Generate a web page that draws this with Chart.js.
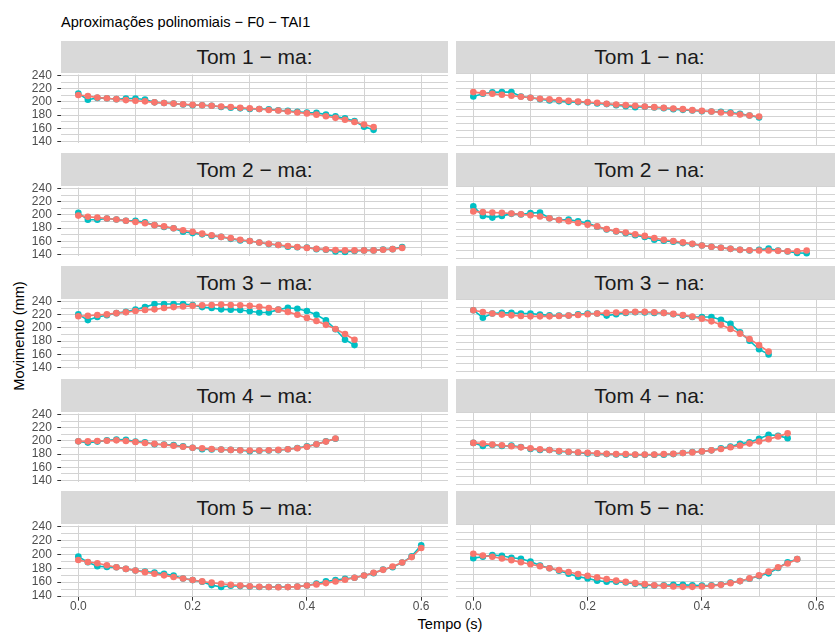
<!DOCTYPE html>
<html><head><meta charset="utf-8">
<script src="https://cdn.jsdelivr.net/npm/chart.js@4.4.1/dist/chart.umd.min.js"></script>
<style>
html,body{margin:0;padding:0;background:#fff;width:835px;height:635px;overflow:hidden;position:relative;font-family:'Liberation Sans',Arial,sans-serif;}
.strip{position:absolute;background:#D9D9D9;color:#1A1A1A;font-size:21px;display:flex;align-items:center;justify-content:center;white-space:nowrap;overflow:hidden;}
canvas{position:absolute;}
.txt{position:absolute;white-space:nowrap;line-height:1;color:#000;}
</style></head><body>
<div class="txt" style="left:61px;top:15px;font-size:14.6px;">Aproximações polinomiais − F0 − TAI1</div>
<div class="txt" style="left:450px;top:617px;font-size:14.6px;transform:translateX(-50%);">Tempo (s)</div>
<div class="txt" style="left:19px;top:336px;font-size:14.6px;transform:translate(-50%,-50%) rotate(-90deg);">Movimento (mm)</div>
<script>
// ---- data ----
const tempo = [0, 0.0167, 0.0333, 0.05, 0.0667, 0.0833, 0.1, 0.1167, 0.1333, 0.15, 0.1667, 0.1833, 0.2, 0.2167, 0.2333, 0.25, 0.2667, 0.2833, 0.3, 0.3167, 0.3333, 0.35, 0.3667, 0.3833, 0.4, 0.4167, 0.4333, 0.45, 0.4667, 0.4833, 0.5, 0.5167, 0.5333, 0.55, 0.5667, 0.5833, 0.6];
const paineis = ["Tom 1 − ma:", "Tom 1 − na:", "Tom 2 − ma:", "Tom 2 − na:", "Tom 3 − ma:", "Tom 3 − na:", "Tom 4 − ma:", "Tom 4 − na:", "Tom 5 − ma:", "Tom 5 − na:"];
const xTicks = [0.0, 0.2, 0.4, 0.6];
const yTicks = [140, 160, 180, 200, 220, 240];

const tom1_ma_obs = [212.7, 203.2, 206.0, 205.5, 204.1, 205.1, 205.1, 203.6, 199.3, 198.4, 197.4, 196.0, 195.0, 195.0, 194.1, 192.2, 191.2, 190.2, 189.3, 189.3, 188.8, 187.4, 186.4, 185.0, 184.0, 183.5, 180.7, 178.3, 175.0, 171.1, 162.5, 157.7];
const tom1_ma_apr = [210.3, 208.9, 206.5, 205.5, 204.1, 202.7, 201.7, 200.8, 199.3, 198.4, 197.4, 196.5, 195.5, 195.0, 194.1, 193.1, 192.2, 191.2, 190.2, 189.3, 187.8, 186.9, 185.5, 184.0, 182.6, 180.7, 178.3, 175.9, 173.0, 169.7, 165.8, 162.0];
const tom1_na_obs = [208.4, 212.2, 214.1, 214.5, 214.5, 208.4, 206.5, 204.6, 202.7, 201.8, 200.8, 200.4, 199.9, 198.5, 197.6, 196.1, 194.7, 193.3, 193.8, 192.8, 191.9, 190.5, 189.5, 188.6, 187.6, 187.2, 186.7, 185.8, 183.9, 181.5, 178.7];
const tom1_na_apr = [214.5, 213.1, 212.2, 210.8, 209.4, 208.0, 206.5, 205.1, 204.2, 203.2, 202.3, 201.3, 200.4, 199.4, 198.0, 197.1, 196.1, 195.2, 194.2, 193.3, 192.4, 191.4, 190.5, 189.1, 188.1, 187.2, 185.8, 184.8, 182.9, 181.5, 180.1];
const tom2_ma_obs = [203.2, 192.6, 192.6, 194.6, 193.1, 191.2, 191.2, 188.8, 184.5, 181.6, 179.7, 174.4, 172.5, 170.6, 168.2, 166.7, 163.8, 161.4, 160.6, 158.2, 155.8, 154.4, 152.0, 151.0, 150.6, 148.2, 147.2, 144.8, 143.9, 145.3, 146.3, 146.3, 147.7, 148.2, 151.5];
const tom2_ma_apr = [198.9, 197.0, 196.0, 194.6, 193.1, 191.2, 189.3, 187.4, 184.5, 182.6, 179.7, 176.8, 174.4, 171.6, 169.1, 166.7, 164.8, 162.4, 160.6, 158.2, 156.3, 154.4, 152.9, 151.5, 150.1, 148.7, 147.7, 146.8, 146.3, 146.3, 146.3, 146.3, 147.2, 148.2, 150.1];
const tom2_na_obs = [212.7, 199.3, 196.9, 199.3, 202.2, 201.2, 203.2, 204.1, 196.0, 193.6, 194.1, 191.7, 189.3, 184.0, 180.2, 177.3, 174.9, 172.0, 169.7, 165.8, 164.4, 163.0, 161.0, 159.6, 157.7, 155.8, 154.4, 152.9, 151.5, 150.5, 151.5, 153.4, 150.5, 149.1, 147.2, 146.7];
const tom2_na_apr = [205.6, 204.6, 204.1, 203.6, 202.7, 201.7, 200.3, 198.4, 196.0, 193.6, 191.7, 189.3, 186.9, 184.5, 180.7, 177.8, 175.9, 173.5, 171.1, 168.2, 165.8, 163.9, 162.0, 160.1, 157.7, 155.8, 154.4, 152.9, 151.5, 151.0, 150.5, 150.5, 150.1, 149.6, 149.6, 150.5];
const tom3_ma_obs = [220.4, 211.8, 216.6, 219.0, 222.3, 224.2, 227.6, 231.4, 236.2, 236.2, 236.2, 236.2, 234.7, 231.4, 230.0, 228.0, 227.6, 227.1, 225.2, 223.3, 223.3, 227.6, 230.5, 229.0, 225.6, 219.9, 211.3, 197.9, 182.1, 174.0];
const tom3_ma_apr = [217.5, 218.3, 219.4, 220.4, 222.3, 223.7, 225.6, 227.1, 228.0, 230.0, 231.4, 232.3, 233.3, 234.3, 234.7, 235.2, 234.7, 234.3, 233.3, 231.9, 230.0, 227.6, 224.2, 219.9, 215.1, 210.3, 204.6, 198.4, 190.8, 182.1];
const tom3_na_obs = [225.6, 215.1, 220.9, 221.8, 221.8, 220.9, 220.9, 219.4, 218.4, 218.0, 218.0, 219.9, 220.9, 220.9, 218.0, 219.9, 221.8, 222.8, 222.3, 221.8, 221.8, 219.9, 218.0, 216.1, 216.1, 216.1, 212.2, 206.5, 194.5, 182.6, 170.6, 163.4];
const tom3_na_apr = [225.6, 223.1, 220.9, 219.4, 218.4, 217.5, 217.0, 217.0, 217.0, 217.5, 218.0, 218.9, 219.9, 220.9, 221.8, 222.3, 222.8, 223.3, 223.3, 222.8, 221.8, 220.4, 218.9, 216.6, 213.7, 209.9, 205.1, 199.3, 192.6, 185.0, 176.4, 167.3];
const tom4_ma_obs = [199.3, 197.4, 198.9, 200.8, 202.2, 201.7, 198.9, 197.9, 195.0, 194.6, 193.6, 191.7, 189.7, 187.4, 186.9, 186.9, 186.4, 185.9, 184.5, 185.0, 185.5, 185.9, 187.4, 189.3, 191.7, 195.0, 199.3, 203.2];
const tom4_ma_apr = [199.3, 199.3, 199.8, 200.3, 200.8, 199.8, 198.4, 196.9, 195.5, 194.0, 192.6, 191.2, 189.7, 188.8, 187.8, 186.9, 186.4, 185.9, 185.5, 185.5, 185.9, 186.4, 187.4, 188.8, 191.2, 195.0, 198.9, 203.7];
const tom4_na_obs = [197.9, 193.6, 195.0, 193.6, 194.0, 192.1, 189.3, 187.8, 187.8, 185.9, 185.0, 184.0, 183.1, 182.6, 182.1, 181.6, 181.1, 181.1, 181.1, 181.1, 181.1, 182.1, 183.6, 185.0, 185.9, 187.4, 190.2, 192.6, 196.5, 198.9, 203.7, 209.4, 208.0, 204.6];
const tom4_na_apr = [197.9, 196.9, 195.5, 194.5, 193.1, 191.6, 190.2, 188.8, 187.8, 186.4, 185.5, 184.5, 184.0, 183.1, 182.6, 182.1, 182.1, 181.6, 181.6, 181.6, 182.1, 182.6, 183.6, 184.5, 185.9, 187.4, 189.3, 191.7, 194.0, 196.9, 199.8, 203.2, 207.0, 211.3];
const tom5_ma_obs = [196.7, 188.6, 182.9, 181.9, 181.4, 179.0, 176.7, 175.2, 173.8, 171.9, 169.5, 165.2, 162.9, 160.5, 155.7, 152.9, 154.8, 154.3, 153.8, 152.9, 152.9, 152.9, 152.9, 153.8, 155.2, 158.1, 161.0, 162.9, 164.8, 166.2, 169.5, 172.9, 178.1, 181.4, 188.1, 197.0, 212.9];
const tom5_ma_apr = [191.9, 189.0, 187.1, 184.3, 181.4, 179.0, 176.7, 174.3, 172.0, 169.7, 167.4, 165.2, 163.0, 161.0, 159.2, 157.6, 156.2, 155.0, 154.1, 153.4, 152.9, 152.7, 152.8, 153.5, 155.2, 156.7, 158.6, 160.8, 163.3, 166.2, 169.5, 173.3, 177.6, 182.4, 188.1, 196.0, 209.0];
const tom5_na_obs = [193.3, 195.2, 197.6, 196.7, 193.8, 192.4, 188.6, 182.9, 179.0, 175.7, 171.4, 167.1, 164.8, 161.4, 160.0, 160.0, 159.0, 157.1, 155.2, 154.8, 155.2, 155.7, 155.7, 155.2, 154.8, 155.2, 156.2, 159.0, 161.0, 164.3, 168.1, 171.9, 179.5, 187.6, 191.9];
const tom5_na_apr = [199.5, 197.1, 195.2, 192.9, 190.5, 187.6, 184.8, 181.9, 179.0, 176.7, 173.8, 171.0, 168.6, 166.2, 163.8, 161.9, 160.0, 158.1, 156.7, 155.2, 154.3, 153.3, 152.9, 152.9, 153.3, 154.3, 155.7, 158.1, 161.0, 164.8, 169.0, 174.3, 180.5, 185.7, 191.9];

const observados = [tom1_ma_obs, tom1_na_obs, tom2_ma_obs, tom2_na_obs, tom3_ma_obs, tom3_na_obs, tom4_ma_obs, tom4_na_obs, tom5_ma_obs, tom5_na_obs];
const aproximados = [tom1_ma_apr, tom1_na_apr, tom2_ma_apr, tom2_na_apr, tom3_ma_apr, tom3_na_apr, tom4_ma_apr, tom4_na_apr, tom5_ma_apr, tom5_na_apr];

// ---- layout ----
const FONT = "'Liberation Sans', Arial, sans-serif";
const COR_OBS = '#00BFC4', COR_APR = '#F8766D';
const GRID = '#D3D3D3';
const stripTop = [41, 153, 266, 379, 491];
const panelTop = [73, 186, 299, 412, 524];
const panelH = 73, panelW = 387;
const colLeft = [61, 456];
const XMIN = -0.0303, XMAX = 0.6469, YMIN = 138.6, YMAX = 241.4;

function isMajorX(v){ return xTicks.some(t => Math.abs(t - v) < 1e-6); }
function isMajorY(v){ return yTicks.some(t => Math.abs(t - v) < 1e-6); }

paineis.forEach((label, k) => {
  const row = Math.floor(k / 2), col = k % 2;
  const isLeft = col === 0, isBottom = row === 4;
  const s = document.createElement('div');
  s.className = 'strip';
  s.style.left = colLeft[col] + 'px';
  s.style.top = stripTop[row] + 'px';
  s.style.width = panelW + 'px';
  s.style.height = (panelTop[row] - stripTop[row]) + 'px';
  s.textContent = label;
  document.body.appendChild(s);

  const yAxisW = isLeft ? 61 : 0;
  const padTop = 10, padBot = isBottom ? 0 : 8;
  const xAxisH = isBottom ? 38 : 0;
  const W = yAxisW + panelW, H = padTop + panelH + padBot + xAxisH;
  const cv = document.createElement('canvas');
  cv.width = W; cv.height = H;
  cv.style.width = W + 'px'; cv.style.height = H + 'px';
  cv.style.left = (colLeft[col] - yAxisW) + 'px';
  cv.style.top = (panelTop[row] - padTop) + 'px';
  cv.style.zIndex = 2;
  document.body.appendChild(cv);

  const obs = observados[k].map((v, i) => ({x: tempo[i], y: v}));
  const apr = aproximados[k].map((v, i) => ({x: tempo[i], y: v}));
  const ds = (data, c) => ({data, borderColor: c, backgroundColor: c, pointBackgroundColor: c,
    pointBorderWidth: 0, pointRadius: 3.3, pointHoverRadius: 3.3, borderWidth: 1.6, tension: 0});

  new Chart(cv, {
    type: 'line',
    data: { datasets: [ds(apr, COR_APR), ds(obs, COR_OBS)] },
    options: {
      responsive: false, animation: false, devicePixelRatio: 1, events: [],
      layout: { padding: {top: padTop, bottom: padBot, left: 0, right: 0}, autoPadding: false },
      plugins: { legend: {display: false}, tooltip: {enabled: false} },
      scales: {
        x: {
          type: 'linear', min: XMIN, max: XMAX,
          afterFit: sc => { sc.height = xAxisH; },
          border: {display: false},
          grid: { color: GRID, lineWidth: 1, drawTicks: isBottom, tickLength: 3.7, tickWidth: 1,
                  tickColor: c => (c.tick && isMajorX(c.tick.value)) ? '#333333' : 'rgba(0,0,0,0)' },
          ticks: { display: isBottom, stepSize: 0.1, includeBounds: false, autoSkip: false, maxRotation: 0,
                   padding: 0, color: '#4D4D4D', font: {family: FONT, size: 12, lineHeight: 1},
                   callback: v => isMajorX(v) ? (Math.round(v * 10) / 10).toFixed(1) : '' }
        },
        y: {
          type: 'linear', min: YMIN, max: YMAX,
          afterFit: sc => { sc.width = yAxisW; },
          border: {display: false},
          grid: { color: GRID, lineWidth: 1, drawTicks: isLeft, tickLength: 3.7, tickWidth: 1,
                  tickColor: c => (c.tick && isMajorY(c.tick.value)) ? '#333333' : 'rgba(0,0,0,0)' },
          ticks: { display: isLeft, stepSize: 10, includeBounds: false, autoSkip: false,
                   padding: 5.5, color: '#4D4D4D', font: {family: FONT, size: 12, lineHeight: 1},
                   callback: v => isMajorY(v) ? String(Math.round(v)) : '' }
        }
      }
    }
  });
});
</script>
</body></html>
